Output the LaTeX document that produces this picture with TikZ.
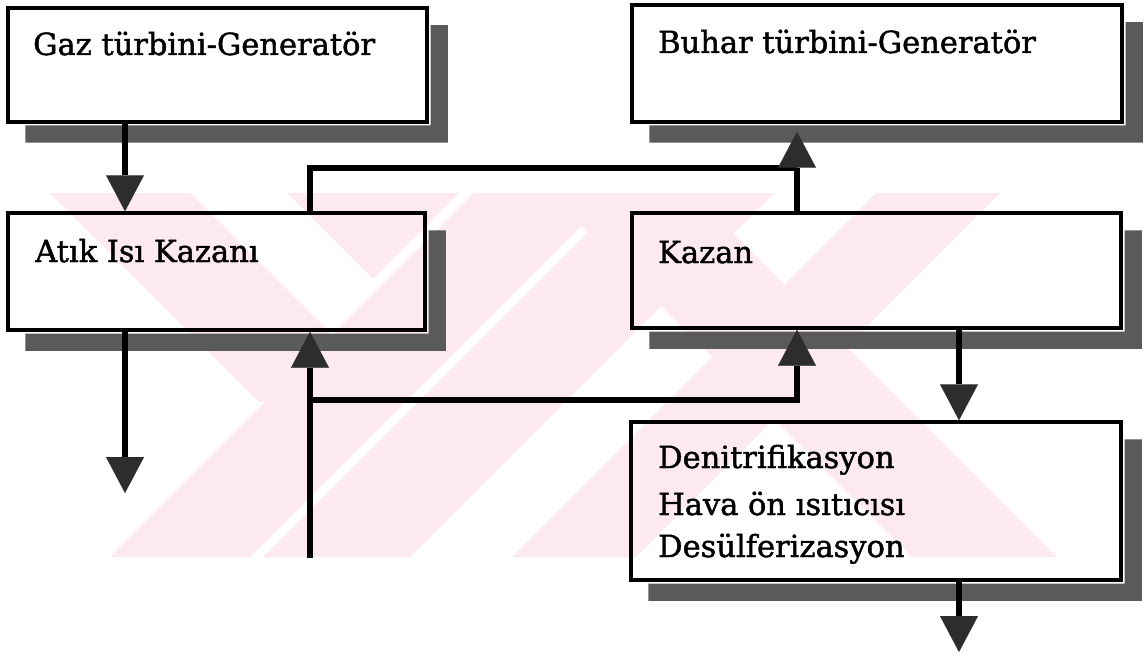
\documentclass[tikz,border=0pt]{standalone}
\usepackage{fontspec}
\setmainfont{DejaVu Serif}[FakeBold=1.4]
\usetikzlibrary{arrows.meta}
\definecolor{wm}{RGB}{253,234,238}
\definecolor{shc}{RGB}{90,90,90}
\definecolor{headc}{RGB}{45,45,45}
\tikzset{
  box/.style={draw=black, line width=3.5pt, inner sep=0pt, rectangle},
  lbl/.style={inner sep=0pt, anchor=base west, font=\fontsize{30.5}{36}\selectfont},
  conn/.style={draw=black, line width=6pt, line join=miter},
  arr/.style={conn, -{Triangle[width=38pt,length=36pt,line width=0.1pt,color=headc]}},
}
\begin{document}
\begin{tikzpicture}[x=1pt,y=-1pt]
\fill[white] (0,0) rectangle (1146,658);
\useasboundingbox (0,0) rectangle (1146,658);
% watermark
\fill[wm] (50,193) -- (190,193) -- (399,402) -- (259,402) -- cycle;
\fill[wm] (110,557) -- (250,557) -- (614,193) -- (474,193) -- cycle;
\fill[wm] (263,557) -- (410,557) -- (774,193) -- (627,193) -- cycle;
\fill[wm] (287,193) -- (459,193) -- (373,279) -- cycle;
\fill[wm] (548,193) -- (693,193) -- (1057,557) -- (912,557) -- cycle;
\fill[wm] (512,557) -- (636,557) -- (1000,193) -- (876,193) -- cycle;
% boxes
\node[box, minimum width=419pt, minimum height=114pt] (gaz) at (217.5,65) {};
\node[box, minimum width=490pt, minimum height=117pt] (buhar) at (877,63.5) {};
\node[box, minimum width=417pt, minimum height=117pt] (atik) at (216.5,271.5) {};
\node[box, minimum width=489pt, minimum height=115pt] (kazan) at (876.5,270.5) {};
\node[box, minimum width=490pt, minimum height=158pt] (denit) at (876,501) {};
% shadows (L-shaped, right and below each box)
\foreach \b in {gaz,buhar,atik,kazan,denit}{
  \fill[shc] ([shift={(1.75,19)}]\b.north east) -- ([shift={(19,19)}]\b.north east)
    -- ([shift={(19,19)}]\b.south east) -- ([shift={(19,19)}]\b.south west)
    -- ([shift={(19,1.75)}]\b.south west) -- ([shift={(1.75,1.75)}]\b.south east) -- cycle;
}
% labels
\node[lbl] (gazt) at (33,55) {Gaz türbini-Generatör};
\node[lbl] (buhart) at (658,53) {Buhar türbini-Generatör};
\node[lbl] (atikt) at (35,262) {Atık Isı Kazanı};
\node[lbl] (kazant) at (658,263) {Kazan};
\node[lbl] (d1) at (658,468) {Denitrifikasyon};
\node[lbl] (d2) at (658,515) {Hava ön ısıtıcısı};
\node[lbl] (d3) at (658,557) {Desülferizasyon};
% connector coordinates
\coordinate (xa) at (125,0);
\coordinate (xb) at (310,0);
\coordinate (xc) at (797,0);
\coordinate (xd) at (959,0);
\coordinate (out1) at (125,493);
\coordinate (in1) at (310,558);
\coordinate (j1) at (310,400);
\coordinate (j2) at (310,168);
\coordinate (out2) at (959,652);
% connectors
\draw[arr] (gaz.south -| xa) -- (atik.north -| xa);
\draw[arr] (atik.south -| xa) -- (out1);
\draw[arr] (in1) -- (atik.south -| xb);
\draw[arr] (j1) -| (kazan.south -| xc);
\draw[conn] (kazan.north -| xc) -- (j2 -| xc);
\draw[arr, shorten >=8pt] (atik.north -| xb) -- (j2) -| (buhar.south -| xc);
\draw[arr] (kazan.south -| xd) -- (denit.north -| xd);
\draw[arr] (denit.south -| xd) -- (out2);
\end{tikzpicture}
\end{document}
